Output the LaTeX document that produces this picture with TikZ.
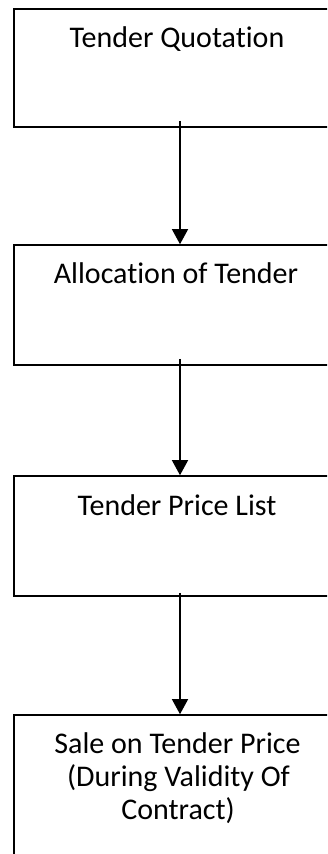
\documentclass[tikz,border=0pt]{standalone}
\usepackage{fontspec}
\setmainfont{Carlito}[Ligatures=CommonOff]
\usetikzlibrary{arrows.meta}
\begin{document}
\begin{tikzpicture}[x=1bp,y=-1bp,
  stagebox/.style={draw=black,line width=1.6bp,rectangle,minimum width=332bp,inner sep=0pt},
  caption/.style={anchor=base,font=\fontsize{30bp}{33bp}\selectfont,inner sep=0pt},
  flow/.style={draw=black,line width=1.4bp,-{Triangle[width=16bp,length=15bp]}}]
  \useasboundingbox (0,0) rectangle (327,854);
  \clip (0,0) rectangle (327,854);
  % process stages
  \node[stagebox,minimum height=118bp] (b1) at (180,68) {};
  \node[stagebox,minimum height=120bp] (b2) at (180,305) {};
  \node[stagebox,minimum height=120bp] (b3) at (180,536) {};
  \node[stagebox,minimum height=190bp] (b4) at (180,810) {};
  % stage captions
  \node[caption] (t1) at (177,47) {Tender Quotation};
  \node[caption] (t2) at (176,283) {Allocation of Tender};
  \node[caption] (t3) at (177,515) {Tender Price List};
  \node[caption] (t4a) at (177.5,753) {Sale on Tender Price};
  \node[caption] (t4b) at (178.5,786) {(During Validity Of};
  \node[caption] (t4c) at (178,819) {Contract)};
  % flow between stages
  \draw[flow] ([yshift=7bp]b1.south) -- (b2.north);
  \draw[flow] ([yshift=7bp]b2.south) -- (b3.north);
  \draw[flow] ([yshift=4bp]b3.south) -- (b4.north);
\end{tikzpicture}
\end{document}
